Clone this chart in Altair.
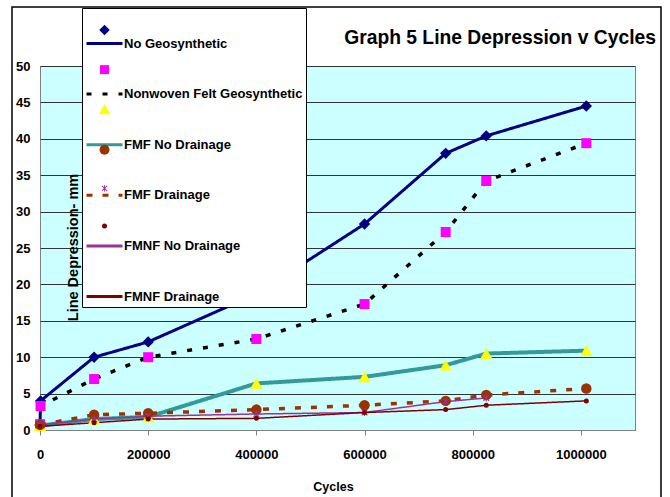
import altair as alt
import pandas as pd

# ---- data ----
series_names = [
    "No Geosynthetic",
    "Nonwoven Felt Geosynthetic",
    "FMF No Drainage",
    "FMF Drainage",
    "FMNF No Drainage",
    "FMNF Drainage",
]

cycles_a = [0, 1000, 100000, 200000, 400000, 600000, 750000, 825000, 1010000]
no_geo = [0.7, 4.0, 10.0, 12.1, 18.7, 28.3, 38.0, 40.4, 44.5]
nonwoven = [0.8, 3.3, 7.0, 10.0, 12.5, 17.3, 27.2, 34.2, 39.4]

cycles_b = [0, 100000, 200000, 400000, 600000, 750000, 825000, 1010000]
fmf_nd = [0.6, 1.5, 1.8, 6.4, 7.3, 8.9, 10.5, 10.9]
fmf_d = [0.7, 2.1, 2.3, 2.8, 3.4, 4.0, 4.8, 5.7]

cycles_c = [0, 100000, 200000, 400000, 600000, 750000, 825000]
fmnf_nd = [0.7, 1.5, 1.9, 2.2, 2.4, 3.9, 4.4]

fmnf_d = [0.5, 1.0, 1.5, 1.6, 2.4, 2.8, 3.4, 4.0]

x_ticks = [0, 200000, 400000, 600000, 800000, 1000000]
y_ticks = [0, 5, 10, 15, 20, 25, 30, 35, 40, 45, 50]

# ---- styles ----
line_colors = ["#000080", "#000000", "#339999", "#993300", "#993399", "#800000"]
marker_colors = ["#000080", "#FF00FF", "#FFFF00", "#993300", "#993399", "#800000"]
line_widths = [3, 3.5, 4, 3.5, 1.5, 1.5]
line_dashes = [[1, 0], [5, 11], [1, 0], [6, 10], [1, 0], [1, 0]]
star = ("M-0.15,-1H0.15V1H-0.15Z"
        "M-0.694,-0.906L0.906,0.694L0.694,0.906L-0.906,-0.694Z"
        "M0.694,-0.906L0.906,-0.694L-0.694,0.906L-0.906,0.694Z")
marker_shapes = ["diamond", "square", "triangle-up", "circle", star, "circle"]
marker_sizes = [130, 100, 150, 110, 50, 25]
legend_marker_sizes = [110, 80, 130, 100, 40, 25]

rows = []
for i, (name, xs, ys) in enumerate([
    (series_names[0], cycles_a, no_geo),
    (series_names[1], cycles_a, nonwoven),
    (series_names[2], cycles_b, fmf_nd),
    (series_names[3], cycles_b, fmf_d),
    (series_names[4], cycles_c, fmnf_nd),
    (series_names[5], cycles_b, fmnf_d),
]):
    for j, (x, y) in enumerate(zip(xs, ys)):
        rows.append({"series": name, "series_m": name, "idx": i, "step": j,
                     "cycles": x, "depression": y})
df = pd.DataFrame(rows)

FONT = "Liberation Sans"
names_js = "[" + ",".join("'" + n + "'" for n in series_names) + "]"
lw_js = "[" + ",".join(str(v) for v in line_widths) + "]"
ms_js = "[" + ",".join(str(v) for v in marker_sizes) + "]"
lms_js = "[" + ",".join(str(v) for v in legend_marker_sizes) + "]"


def x_enc():
    return alt.X("cycles:Q",
                 scale=alt.Scale(domain=[0, 1100000], nice=False, zero=False),
                 axis=alt.Axis(values=x_ticks, format="d", title="Cycles",
                               titleX=293, titleY=56, titleBaseline="middle",
                               titleFontSize=12.5, titleFont=FONT, titleFontWeight="bold",
                               labelFontSize=13, labelFont=FONT, labelFontWeight="bold",
                               labelColor="black", labelPadding=13, tickSize=5,
                               tickColor="#808080", domainColor="#808080",
                               grid=False, labelFlush=False))


def y_enc():
    return alt.Y("depression:Q",
                 scale=alt.Scale(domain=[0, 50], nice=False),
                 axis=alt.Axis(values=y_ticks, title="Line Depression- mm",
                               titleX=33, titleY=181, titleAngle=270,
                               titleAlign="center", titleBaseline="middle",
                               titleFontSize=14.5, titleFont=FONT, titleFontWeight="bold",
                               labelFontSize=13, labelFont=FONT, labelFontWeight="bold",
                               labelColor="black", labelPadding=10, tickSize=0,
                               domain=False, grid=True, gridColor="#333333",
                               gridWidth=1, labelOverlap=False))


lms_expr = f"(datum && datum.value) ? {lms_js}[indexof({names_js}, datum.value)] : 100"

lines = alt.Chart(df).transform_calculate(
    lw=f"{lw_js}[datum.idx]"
).mark_line(strokeCap="butt").encode(
    x=x_enc(),
    y=y_enc(),
    stroke=alt.Stroke("series:N",
                      scale=alt.Scale(domain=series_names, range=line_colors),
                      legend=alt.Legend(orient="none", legendX=42, legendY=-58,
                                        title=" ", titleFontSize=11, titlePadding=2,
                                        symbolType="stroke",
                                        symbolSize=1296, padding=3,
                                        labelOffset=0,
                                        rowPadding=23.6,
                                        fillColor="white", strokeColor="black",
                                        labelFont=FONT, labelFontSize=13,
                                        labelFontWeight="bold", labelColor="black",
                                        labelLimit=0, zindex=1,
                                        symbolStrokeWidth=3)),
    strokeDash=alt.StrokeDash("series:N",
                              scale=alt.Scale(domain=series_names, range=line_dashes)),
    strokeWidth=alt.StrokeWidth("lw:Q", scale=None, legend=None),
    order="step:Q",
)

points = alt.Chart(df).transform_calculate(
    ms=f"{ms_js}[datum.idx]"
).mark_point(filled=True, strokeWidth=0, opacity=1).encode(
    x=x_enc(),
    y=y_enc(),
    fill=alt.Fill("series_m:N",
                  sort=alt.EncodingSortField("idx", op="min"),
                  scale=alt.Scale(range=marker_colors),
                  legend=alt.Legend(orient="none", legendX=58, legendY=-42.5,
                                    title=None, padding=0,
                                    rowPadding=23.6, labelOpacity=0,
                                    labelFont=FONT, labelFontSize=13,
                                    labelFontWeight="bold", labelLimit=0,
                                    zindex=2,
                                    symbolSize={"expr": lms_expr})),
    shape=alt.Shape("series_m:N",
                    sort=alt.EncodingSortField("idx", op="min"),
                    scale=alt.Scale(range=marker_shapes)),
    size=alt.Size("ms:Q", scale=None, legend=None),
    order="idx:Q",
)

frame = alt.Chart(alt.Data(values=[{"a": 1}])).mark_rect(
    filled=False, stroke="black", strokeWidth=1.5
).encode(x=alt.value(-28), x2=alt.value(621), y=alt.value(-59), y2=alt.value(440))

chart = alt.layer(frame, lines, points).properties(
    width=595, height=364,
    padding={"left": 40, "top": 66, "right": 35, "bottom": 67},
    autosize=alt.AutoSizeParams(type="none"),
    background="white",
    title=alt.TitleParams("Graph 5 Line Depression v Cycles", anchor="end",
                          frame="group",
                          fontSize=19.3, font=FONT, fontWeight="bold",
                          color="black", dx=21, offset=0, dy=57,
                          baseline="alphabetic"),
).configure_view(
    fill="#CCFFFF", stroke="#808080", strokeWidth=1
)

chart.save("out.html", embed_options={"renderer": "svg", "actions": False})
